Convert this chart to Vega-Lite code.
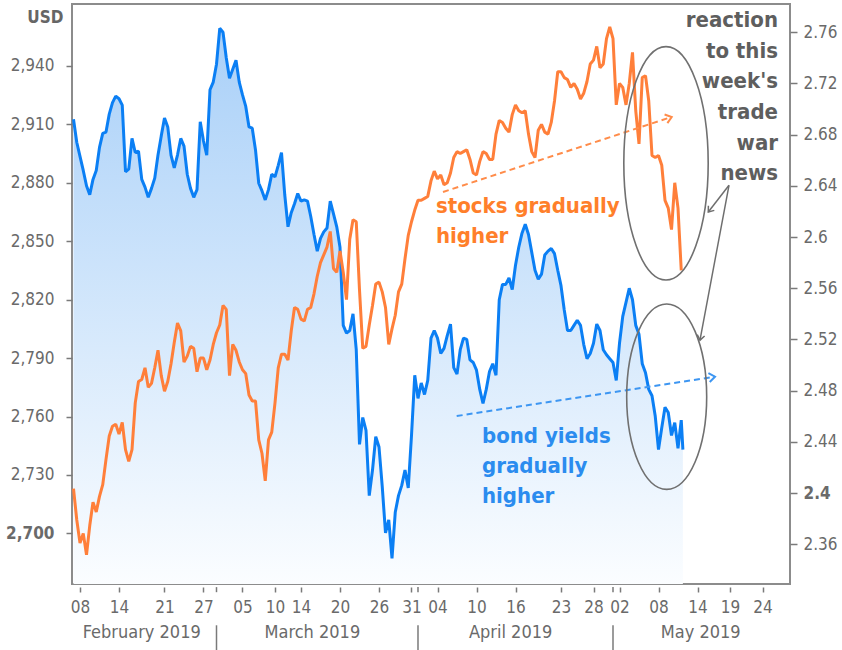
{
"$schema":"https://vega.github.io/schema/vega-lite/v6.json",
"width":718,"height":580,
"autosize":{"type":"none"},
"padding":{"left":72,"top":4,"right":52,"bottom":66},
"background":"white",
"datasets":{"m":[
{"t":"2019-02-07T00:00Z","s":2723,"y":2.692},{"t":"2019-02-07T12:00Z","s":2707,"y":2.674},
{"t":"2019-02-08T00:00Z","s":2695,"y":2.663},{"t":"2019-02-08T12:00Z","s":2700,"y":2.652},
{"t":"2019-02-09T00:00Z","s":2689,"y":2.640},{"t":"2019-02-09T12:00Z","s":2704,"y":2.633},
{"t":"2019-02-10T00:00Z","s":2716,"y":2.645},{"t":"2019-02-10T12:00Z","s":2711,"y":2.652},
{"t":"2019-02-11T00:00Z","s":2719,"y":2.670},{"t":"2019-02-11T12:00Z","s":2725,"y":2.681},
{"t":"2019-02-12T00:00Z","s":2738,"y":2.682},{"t":"2019-02-12T12:00Z","s":2750,"y":2.696},
{"t":"2019-02-13T00:00Z","s":2755,"y":2.705},{"t":"2019-02-13T12:00Z","s":2756,"y":2.710},
{"t":"2019-02-14T00:00Z","s":2751,"y":2.708},{"t":"2019-02-14T12:00Z","s":2757,"y":2.703},
{"t":"2019-02-15T00:00Z","s":2743,"y":2.651},{"t":"2019-02-15T12:00Z","s":2737,"y":2.653},
{"t":"2019-02-16T00:00Z","s":2743,"y":2.677},{"t":"2019-02-16T12:00Z","s":2767,"y":2.666},
{"t":"2019-02-17T00:00Z","s":2778,"y":2.667},{"t":"2019-02-17T12:00Z","s":2779,"y":2.645},
{"t":"2019-02-18T00:00Z","s":2785,"y":2.639},{"t":"2019-02-18T12:00Z","s":2775,"y":2.631},
{"t":"2019-02-19T00:00Z","s":2777,"y":2.638},{"t":"2019-02-19T12:00Z","s":2785,"y":2.646},
{"t":"2019-02-20T00:00Z","s":2794,"y":2.664},{"t":"2019-02-20T12:00Z","s":2781,"y":2.679},
{"t":"2019-02-21T00:00Z","s":2773,"y":2.693},{"t":"2019-02-21T12:00Z","s":2778,"y":2.686},
{"t":"2019-02-22T00:00Z","s":2787,"y":2.664},{"t":"2019-02-22T12:00Z","s":2798,"y":2.654},
{"t":"2019-02-23T00:00Z","s":2808,"y":2.664},{"t":"2019-02-23T12:00Z","s":2804,"y":2.677},
{"t":"2019-02-24T00:00Z","s":2788,"y":2.671},{"t":"2019-02-24T12:00Z","s":2791,"y":2.649},
{"t":"2019-02-25T00:00Z","s":2796,"y":2.638},{"t":"2019-02-25T12:00Z","s":2795,"y":2.631},
{"t":"2019-02-26T00:00Z","s":2783,"y":2.637},{"t":"2019-02-26T12:00Z","s":2790,"y":2.690},
{"t":"2019-02-27T00:00Z","s":2790,"y":2.675},{"t":"2019-02-27T12:00Z","s":2784,"y":2.664},
{"t":"2019-02-28T00:00Z","s":2789,"y":2.715},{"t":"2019-02-28T12:00Z","s":2797,"y":2.721},
{"t":"2019-03-01T00:00Z","s":2803,"y":2.735},{"t":"2019-03-01T12:00Z","s":2807,"y":2.763},
{"t":"2019-03-02T00:00Z","s":2817,"y":2.760},{"t":"2019-03-02T12:00Z","s":2815,"y":2.740},
{"t":"2019-03-03T00:00Z","s":2781,"y":2.724},{"t":"2019-03-03T12:00Z","s":2797,"y":2.731},
{"t":"2019-03-04T00:00Z","s":2794,"y":2.738},{"t":"2019-03-04T12:00Z","s":2788,"y":2.721},
{"t":"2019-03-05T00:00Z","s":2784,"y":2.711},{"t":"2019-03-05T12:00Z","s":2782,"y":2.702},
{"t":"2019-03-06T00:00Z","s":2771,"y":2.686},{"t":"2019-03-06T12:00Z","s":2768,"y":2.685},
{"t":"2019-03-07T00:00Z","s":2768,"y":2.668},{"t":"2019-03-07T12:00Z","s":2748,"y":2.642},
{"t":"2019-03-08T00:00Z","s":2741,"y":2.636},{"t":"2019-03-08T12:00Z","s":2727,"y":2.629},
{"t":"2019-03-09T00:00Z","s":2748,"y":2.637},{"t":"2019-03-09T12:00Z","s":2752,"y":2.649},
{"t":"2019-03-10T00:00Z","s":2767,"y":2.647},{"t":"2019-03-10T12:00Z","s":2785,"y":2.656},
{"t":"2019-03-11T00:00Z","s":2792,"y":2.666},{"t":"2019-03-11T12:00Z","s":2792,"y":2.633},
{"t":"2019-03-12T00:00Z","s":2789,"y":2.608},{"t":"2019-03-12T12:00Z","s":2804,"y":2.619},
{"t":"2019-03-13T00:00Z","s":2816,"y":2.626},{"t":"2019-03-13T12:00Z","s":2815,"y":2.634},
{"t":"2019-03-14T00:00Z","s":2810,"y":2.628},{"t":"2019-03-14T12:00Z","s":2809,"y":2.629},
{"t":"2019-03-15T00:00Z","s":2815,"y":2.628},{"t":"2019-03-15T12:00Z","s":2816,"y":2.616},
{"t":"2019-03-16T00:00Z","s":2823,"y":2.602},{"t":"2019-03-16T12:00Z","s":2832,"y":2.589},
{"t":"2019-03-17T00:00Z","s":2839,"y":2.599},{"t":"2019-03-17T12:00Z","s":2843,"y":2.604},
{"t":"2019-03-18T00:00Z","s":2847,"y":2.607},{"t":"2019-03-18T12:00Z","s":2855,"y":2.628},
{"t":"2019-03-19T00:00Z","s":2836,"y":2.618},{"t":"2019-03-19T12:00Z","s":2834,"y":2.608},
{"t":"2019-03-20T00:00Z","s":2845,"y":2.592},{"t":"2019-03-20T12:00Z","s":2834,"y":2.531},
{"t":"2019-03-21T00:00Z","s":2820,"y":2.525},{"t":"2019-03-21T12:00Z","s":2851,"y":2.527},
{"t":"2019-03-22T00:00Z","s":2861,"y":2.540},{"t":"2019-03-22T12:00Z","s":2860,"y":2.512},
{"t":"2019-03-23T00:00Z","s":2825,"y":2.438},{"t":"2019-03-23T12:00Z","s":2795,"y":2.459},
{"t":"2019-03-24T00:00Z","s":2796,"y":2.449},{"t":"2019-03-24T12:00Z","s":2807,"y":2.398},
{"t":"2019-03-25T00:00Z","s":2817,"y":2.418},{"t":"2019-03-25T12:00Z","s":2828,"y":2.444},
{"t":"2019-03-26T00:00Z","s":2829,"y":2.436},{"t":"2019-03-26T12:00Z","s":2824,"y":2.405},
{"t":"2019-03-27T00:00Z","s":2816,"y":2.369},{"t":"2019-03-27T12:00Z","s":2797,"y":2.379},
{"t":"2019-03-28T00:00Z","s":2805,"y":2.349},{"t":"2019-03-28T12:00Z","s":2812,"y":2.385},
{"t":"2019-03-29T00:00Z","s":2824,"y":2.398},{"t":"2019-03-29T12:00Z","s":2828,"y":2.406},
{"t":"2019-03-30T00:00Z","s":2841,"y":2.418},{"t":"2019-03-30T12:00Z","s":2853,"y":2.404},
{"t":"2019-03-31T00:00Z","s":2860,"y":2.445},{"t":"2019-03-31T12:00Z","s":2866,"y":2.492},
{"t":"2019-04-01T00:00Z","s":2871,"y":2.474},{"t":"2019-04-01T12:00Z","s":2871,"y":2.486},
{"t":"2019-04-02T00:00Z","s":2872,"y":2.477},{"t":"2019-04-02T12:00Z","s":2873,"y":2.488},
{"t":"2019-04-03T00:00Z","s":2881,"y":2.521},{"t":"2019-04-03T12:00Z","s":2886,"y":2.527},
{"t":"2019-04-04T00:00Z","s":2882,"y":2.521},{"t":"2019-04-04T12:00Z","s":2884,"y":2.509},
{"t":"2019-04-05T00:00Z","s":2879,"y":2.513},{"t":"2019-04-05T12:00Z","s":2880,"y":2.523},
{"t":"2019-04-06T00:00Z","s":2885,"y":2.532},{"t":"2019-04-06T12:00Z","s":2893,"y":2.498},
{"t":"2019-04-07T00:00Z","s":2896,"y":2.493},{"t":"2019-04-07T12:00Z","s":2895,"y":2.512},
{"t":"2019-04-08T00:00Z","s":2896,"y":2.521},{"t":"2019-04-08T12:00Z","s":2897,"y":2.520},
{"t":"2019-04-09T00:00Z","s":2892,"y":2.504},{"t":"2019-04-09T12:00Z","s":2885,"y":2.502},
{"t":"2019-04-10T00:00Z","s":2884,"y":2.496},{"t":"2019-04-10T12:00Z","s":2891,"y":2.481},
{"t":"2019-04-11T00:00Z","s":2896,"y":2.470},{"t":"2019-04-11T12:00Z","s":2895,"y":2.481},
{"t":"2019-04-12T00:00Z","s":2892,"y":2.495},{"t":"2019-04-12T12:00Z","s":2892,"y":2.501},
{"t":"2019-04-13T00:00Z","s":2905,"y":2.492},{"t":"2019-04-13T12:00Z","s":2912,"y":2.551},
{"t":"2019-04-14T00:00Z","s":2911,"y":2.563},{"t":"2019-04-14T12:00Z","s":2908,"y":2.563},
{"t":"2019-04-15T00:00Z","s":2906,"y":2.568},{"t":"2019-04-15T12:00Z","s":2915,"y":2.559},
{"t":"2019-04-16T00:00Z","s":2920,"y":2.578},{"t":"2019-04-16T12:00Z","s":2917,"y":2.592},
{"t":"2019-04-17T00:00Z","s":2916,"y":2.603},{"t":"2019-04-17T12:00Z","s":2917,"y":2.610},
{"t":"2019-04-18T00:00Z","s":2905,"y":2.602},{"t":"2019-04-18T12:00Z","s":2896,"y":2.588},
{"t":"2019-04-19T00:00Z","s":2893,"y":2.574},{"t":"2019-04-19T12:00Z","s":2907,"y":2.567},
{"t":"2019-04-20T00:00Z","s":2910,"y":2.571},{"t":"2019-04-20T12:00Z","s":2906,"y":2.586},
{"t":"2019-04-21T00:00Z","s":2905,"y":2.589},{"t":"2019-04-21T12:00Z","s":2911,"y":2.591},
{"t":"2019-04-22T00:00Z","s":2922,"y":2.587},{"t":"2019-04-22T12:00Z","s":2937,"y":2.574},
{"t":"2019-04-23T00:00Z","s":2937,"y":2.562},{"t":"2019-04-23T12:00Z","s":2934,"y":2.543},
{"t":"2019-04-24T00:00Z","s":2933,"y":2.527},{"t":"2019-04-24T12:00Z","s":2929,"y":2.527},
{"t":"2019-04-25T00:00Z","s":2931,"y":2.531},{"t":"2019-04-25T12:00Z","s":2928,"y":2.535},
{"t":"2019-04-26T00:00Z","s":2923,"y":2.531},{"t":"2019-04-26T12:00Z","s":2926,"y":2.516},
{"t":"2019-04-27T00:00Z","s":2932,"y":2.505},{"t":"2019-04-27T12:00Z","s":2941,"y":2.509},
{"t":"2019-04-28T00:00Z","s":2943,"y":2.517},{"t":"2019-04-28T12:00Z","s":2950,"y":2.532},
{"t":"2019-04-29T00:00Z","s":2939,"y":2.527},{"t":"2019-04-29T12:00Z","s":2941,"y":2.512},
{"t":"2019-04-30T00:00Z","s":2954,"y":2.508},{"t":"2019-04-30T12:00Z","s":2960,"y":2.505},
{"t":"2019-05-01T00:00Z","s":2954,"y":2.502},{"t":"2019-05-01T12:00Z","s":2920,"y":2.488},
{"t":"2019-05-02T00:00Z","s":2931,"y":2.517},{"t":"2019-05-02T12:00Z","s":2929,"y":2.538},
{"t":"2019-05-03T00:00Z","s":2920,"y":2.549},{"t":"2019-05-03T12:00Z","s":2931,"y":2.560},
{"t":"2019-05-04T00:00Z","s":2947,"y":2.551},{"t":"2019-05-04T12:00Z","s":2917,"y":2.531},
{"t":"2019-05-05T00:00Z","s":2900,"y":2.524},{"t":"2019-05-05T12:00Z","s":2934,"y":2.501},
{"t":"2019-05-06T00:00Z","s":2935,"y":2.494},{"t":"2019-05-06T12:00Z","s":2922,"y":2.481},
{"t":"2019-05-07T00:00Z","s":2894,"y":2.476},{"t":"2019-05-07T12:00Z","s":2893,"y":2.460},
{"t":"2019-05-08T00:00Z","s":2894,"y":2.434},{"t":"2019-05-08T12:00Z","s":2889,"y":2.451},
{"t":"2019-05-09T00:00Z","s":2871,"y":2.467},{"t":"2019-05-09T12:00Z","s":2867,"y":2.463},
{"t":"2019-05-10T00:00Z","s":2856,"y":2.445},{"t":"2019-05-10T12:00Z","s":2880,"y":2.455},
{"t":"2019-05-11T00:00Z","s":2867,"y":2.435},{"t":"2019-05-11T12:00Z","s":2835,"y":2.457},
{"t":"2019-05-11T18:00Z","s":null,"y":2.434}
]},
"layer":[
{"layer":[
 {"data":{"name":"m"},
  "mark":{"type":"area","line":false,"fill":{"gradient":"linear","x1":0,"y1":0,"x2":0,"y2":1,"stops":[{"offset":0,"color":"#a9d0f8"},{"offset":1,"color":"#fbfdff"}]}},
  "encoding":{
   "x":{"field":"t","type":"temporal","scale":{"type":"utc","nice":false,"domain":[{"year":2019,"month":2,"date":6,"hours":18,"minutes":28,"utc":true},{"year":2019,"month":5,"date":28,"hours":5,"minutes":32,"utc":true}]},
    "axis":{"orient":"bottom","title":null,"offset":3,"tickSize":5,"labelPadding":7,"labelOverlap":false,"labelFlush":false,"tickCount":40,
     "labelExpr":"utcFormat(datum.value, '%d')",
     "values":[{"year":2019,"month":2,"date":8,"utc":true},{"year":2019,"month":2,"date":14,"utc":true},{"year":2019,"month":2,"date":21,"utc":true},{"year":2019,"month":2,"date":27,"utc":true},{"year":2019,"month":3,"date":5,"utc":true},{"year":2019,"month":3,"date":10,"utc":true},{"year":2019,"month":3,"date":14,"utc":true},{"year":2019,"month":3,"date":20,"utc":true},{"year":2019,"month":3,"date":26,"utc":true},{"year":2019,"month":3,"date":31,"utc":true},{"year":2019,"month":4,"date":4,"utc":true},{"year":2019,"month":4,"date":10,"utc":true},{"year":2019,"month":4,"date":16,"utc":true},{"year":2019,"month":4,"date":23,"utc":true},{"year":2019,"month":4,"date":28,"utc":true},{"year":2019,"month":5,"date":2,"utc":true},{"year":2019,"month":5,"date":8,"utc":true},{"year":2019,"month":5,"date":14,"utc":true},{"year":2019,"month":5,"date":19,"utc":true},{"year":2019,"month":5,"date":24,"utc":true}]}},
   "y":{"field":"y","type":"quantitative","scale":{"domain":[2.329,2.782],"nice":false,"zero":false},
    "axis":{"orient":"right","title":null,"tickSize":7,"labelPadding":6,"labelOverlap":false,"tickCount":30,
     "labelExpr":"format(datum.value, '.2~f')",
     "values":[2.36,2.4,2.44,2.48,2.52,2.56,2.6,2.64,2.68,2.72,2.76],
     "labelFontWeight":{"condition":{"test":"abs(datum.value - 2.4) < 0.001","value":"bold"},"value":"normal"}}},
   "y2":{"datum":2.329}}},
 {"data":{"name":"m"},
  "mark":{"type":"line","color":"#0b7ff4","strokeWidth":3,"strokeJoin":"bevel"},
  "encoding":{
   "x":{"field":"t","type":"temporal","scale":{"type":"utc","nice":false,"domain":[{"year":2019,"month":2,"date":6,"hours":18,"minutes":28,"utc":true},{"year":2019,"month":5,"date":28,"hours":5,"minutes":32,"utc":true}]}},
   "y":{"field":"y","type":"quantitative","scale":{"domain":[2.329,2.782],"nice":false,"zero":false}}}},
 {"data":{"values":[{"t":"2019-04-06T22:48:00Z","v":2.4602},{"t":"2019-05-16T16:37:00Z","v":2.4909}]},
  "mark":{"type":"line","color":"#3d96f2","strokeWidth":2,"strokeDash":[6,4]},
  "encoding":{
   "x":{"field":"t","type":"temporal","scale":{"type":"utc","nice":false,"domain":[{"year":2019,"month":2,"date":6,"hours":18,"minutes":28,"utc":true},{"year":2019,"month":5,"date":28,"hours":5,"minutes":32,"utc":true}]}},
   "y":{"field":"v","type":"quantitative","scale":{"domain":[2.329,2.782],"nice":false,"zero":false}}}},
 {"data":{"values":[{"t":"2019-05-16T16:37:00Z","v":2.4909}]},
  "mark":{"type":"point","shape":"M-1,-0.75L0,0L-1,0.75","size":144,"filled":false,"stroke":"#3d96f2","strokeWidth":2,"opacity":1,"angle":-8.65},
  "encoding":{
   "x":{"field":"t","type":"temporal","scale":{"type":"utc","nice":false,"domain":[{"year":2019,"month":2,"date":6,"hours":18,"minutes":28,"utc":true},{"year":2019,"month":5,"date":28,"hours":5,"minutes":32,"utc":true}]}},
   "y":{"field":"v","type":"quantitative","scale":{"domain":[2.329,2.782],"nice":false,"zero":false}}}},
 {"data":{"values":[{"t":"2019-05-09T06:14:00Z","v":2.4753}]},
  "mark":{"type":"point","shape":"M-0.4315,0A0.4315,1 0 1,1 0.4315,0A0.4315,1 0 1,1 -0.4315,0Z","size":34373,"filled":false,"stroke":"#707070","strokeWidth":1.6,"opacity":1},
  "encoding":{
   "x":{"field":"t","type":"temporal","scale":{"type":"utc","nice":false,"domain":[{"year":2019,"month":2,"date":6,"hours":18,"minutes":28,"utc":true},{"year":2019,"month":5,"date":28,"hours":5,"minutes":32,"utc":true}]}},
   "y":{"field":"v","type":"quantitative","scale":{"domain":[2.329,2.782],"nice":false,"zero":false}}}},
 {"data":{"values":[{"t":"2019-04-10T20:18:00Z","v":2.4389}]},
  "mark":{"type":"text","text":["bond yields","gradually","higher"],"align":"left","baseline":"alphabetic","lineHeight":30,"font":"DejaVu Sans Condensed, DejaVu Sans, sans-serif","fontWeight":"bold","fontSize":22,"color":"#2b8cef"},
  "encoding":{
   "x":{"field":"t","type":"temporal","scale":{"type":"utc","nice":false,"domain":[{"year":2019,"month":2,"date":6,"hours":18,"minutes":28,"utc":true},{"year":2019,"month":5,"date":28,"hours":5,"minutes":32,"utc":true}]}},
   "y":{"field":"v","type":"quantitative","scale":{"domain":[2.329,2.782],"nice":false,"zero":false}}}}
]},
{"layer":[
 {"data":{"name":"m"},
  "mark":{"type":"line","color":"#ff7f3a","strokeWidth":3,"strokeJoin":"bevel"},
  "encoding":{
   "x":{"field":"t","type":"temporal","scale":{"type":"utc","nice":false,"domain":[{"year":2019,"month":2,"date":6,"hours":18,"minutes":28,"utc":true},{"year":2019,"month":5,"date":28,"hours":5,"minutes":32,"utc":true}]}},
   "y":{"field":"s","type":"quantitative","scale":{"domain":[2674,2971.8],"nice":false,"zero":false},
    "axis":{"orient":"left","tickSize":6,"labelPadding":12,"labelOverlap":false,"tickCount":30,
     "labelExpr":"format(datum.value, ',')",
     "values":[2700,2730,2760,2790,2820,2850,2880,2910,2940],
     "labelFontWeight":{"condition":{"test":"datum.value == 2700","value":"bold"},"value":"normal"},
     "title":"USD","titleAngle":0,"titleX":-9,"titleY":13,"titleAlign":"right","titleBaseline":"middle","titleFontWeight":"bold","titleFontSize":17,"titleColor":"#666666"}}}},
 {"data":{"values":[{"t":"2019-02-17T12:00:00Z","m":"February 2019"},{"t":"2019-03-15T18:00:00Z","m":"March 2019"},{"t":"2019-04-15T06:00:00Z","m":"April 2019"},{"t":"2019-05-14T12:00:00Z","m":"May 2019"}]},
  "mark":{"type":"text","align":"center","baseline":"middle","font":"DejaVu Sans Condensed, Liberation Sans, sans-serif","fontSize":18,"color":"#6a6a6a"},
  "encoding":{
   "x":{"field":"t","type":"temporal","scale":{"type":"utc","nice":false,"domain":[{"year":2019,"month":2,"date":6,"hours":18,"minutes":28,"utc":true},{"year":2019,"month":5,"date":28,"hours":5,"minutes":32,"utc":true}]}},
   "y":{"datum":2648.6,"type":"quantitative","scale":{"domain":[2674,2971.8],"nice":false,"zero":false}},
   "text":{"field":"m"}}},
 {"data":{"values":[{"t":"2019-03-01T00:00:00Z"},{"t":"2019-04-01T00:00:00Z"},{"t":"2019-05-01T00:00:00Z"}]},
  "mark":{"type":"rule","color":"#7a7a7a","strokeWidth":1.5},
  "encoding":{
   "x":{"field":"t","type":"temporal","scale":{"type":"utc","nice":false,"domain":[{"year":2019,"month":2,"date":6,"hours":18,"minutes":28,"utc":true},{"year":2019,"month":5,"date":28,"hours":5,"minutes":32,"utc":true}]}},
   "y":{"datum":2652.8,"type":"quantitative","scale":{"domain":[2674,2971.8],"nice":false,"zero":false}},
   "y2":{"datum":2640.0}}},
 {"data":{"values":[{"t":"2019-03-01T00:00:00Z"},{"t":"2019-04-01T00:00:00Z"},{"t":"2019-05-01T00:00:00Z"}]},
  "mark":{"type":"rule","color":"#7a7a7a","strokeWidth":1.5},
  "encoding":{
   "x":{"field":"t","type":"temporal","scale":{"type":"utc","nice":false,"domain":[{"year":2019,"month":2,"date":6,"hours":18,"minutes":28,"utc":true},{"year":2019,"month":5,"date":28,"hours":5,"minutes":32,"utc":true}]}},
   "y":{"datum":2672.4,"type":"quantitative","scale":{"domain":[2674,2971.8],"nice":false,"zero":false}},
   "y2":{"datum":2669.8}}},
 {"data":{"values":[{"t":"2019-04-04T20:18:00Z","v":2875.3},{"t":"2019-05-10T00:43:00Z","v":2913.8}]},
  "mark":{"type":"line","color":"#ff8c4a","strokeWidth":2,"strokeDash":[6,4]},
  "encoding":{
   "x":{"field":"t","type":"temporal","scale":{"type":"utc","nice":false,"domain":[{"year":2019,"month":2,"date":6,"hours":18,"minutes":28,"utc":true},{"year":2019,"month":5,"date":28,"hours":5,"minutes":32,"utc":true}]}},
   "y":{"field":"v","type":"quantitative","scale":{"domain":[2674,2971.8],"nice":false,"zero":false}}}},
 {"data":{"values":[{"t":"2019-05-10T00:43:00Z","v":2913.8}]},
  "mark":{"type":"point","shape":"M-1,-0.75L0,0L-1,0.75","size":144,"filled":false,"stroke":"#ff8c4a","strokeWidth":2,"opacity":1,"angle":-18.2},
  "encoding":{
   "x":{"field":"t","type":"temporal","scale":{"type":"utc","nice":false,"domain":[{"year":2019,"month":2,"date":6,"hours":18,"minutes":28,"utc":true},{"year":2019,"month":5,"date":28,"hours":5,"minutes":32,"utc":true}]}},
   "y":{"field":"v","type":"quantitative","scale":{"domain":[2674,2971.8],"nice":false,"zero":false}}}},
 {"data":{"values":[{"t":"2019-05-09T03:42:00Z","v":2890.0}]},
  "mark":{"type":"point","shape":"M-0.3616,0A0.3616,1 0 1,1 0.3616,0A0.3616,1 0 1,1 -0.3616,0Z","size":54475,"filled":false,"stroke":"#707070","strokeWidth":1.6,"opacity":1},
  "encoding":{
   "x":{"field":"t","type":"temporal","scale":{"type":"utc","nice":false,"domain":[{"year":2019,"month":2,"date":6,"hours":18,"minutes":28,"utc":true},{"year":2019,"month":5,"date":28,"hours":5,"minutes":32,"utc":true}]}},
   "y":{"field":"v","type":"quantitative","scale":{"domain":[2674,2971.8],"nice":false,"zero":false}}}},
 {"data":{"values":[{"t":"2019-04-03T18:28:00Z","v":2864.4}]},
  "mark":{"type":"text","text":["stocks gradually","higher"],"align":"left","baseline":"alphabetic","lineHeight":30,"font":"DejaVu Sans Condensed, DejaVu Sans, sans-serif","fontWeight":"bold","fontSize":22,"color":"#ff7f2a"},
  "encoding":{
   "x":{"field":"t","type":"temporal","scale":{"type":"utc","nice":false,"domain":[{"year":2019,"month":2,"date":6,"hours":18,"minutes":28,"utc":true},{"year":2019,"month":5,"date":28,"hours":5,"minutes":32,"utc":true}]}},
   "y":{"field":"v","type":"quantitative","scale":{"domain":[2674,2971.8],"nice":false,"zero":false}}}},
 {"data":{"values":[{"t":"2019-05-26T09:14:00Z","v":2960.0}]},
  "mark":{"type":"text","text":["reaction","to this","week's","trade","war","news"],"align":"right","baseline":"alphabetic","lineHeight":30.7,"font":"DejaVu Sans Condensed, DejaVu Sans, sans-serif","fontWeight":"bold","fontSize":22,"color":"#5e5e5e"},
  "encoding":{
   "x":{"field":"t","type":"temporal","scale":{"type":"utc","nice":false,"domain":[{"year":2019,"month":2,"date":6,"hours":18,"minutes":28,"utc":true},{"year":2019,"month":5,"date":28,"hours":5,"minutes":32,"utc":true}]}},
   "y":{"field":"v","type":"quantitative","scale":{"domain":[2674,2971.8],"nice":false,"zero":false}}}},
 {"data":{"values":[{"g":"a","t":"2019-05-18T20:18:00Z","v":2878.7},{"g":"a","t":"2019-05-15T15:50:00Z","v":2865.0},{"g":"b","t":"2019-05-18T20:18:00Z","v":2878.7},{"g":"b","t":"2019-05-14T09:14:00Z","v":2799.2}]},
  "mark":{"type":"line","color":"#6e6e6e","strokeWidth":1.5},
  "encoding":{
   "x":{"field":"t","type":"temporal","scale":{"type":"utc","nice":false,"domain":[{"year":2019,"month":2,"date":6,"hours":18,"minutes":28,"utc":true},{"year":2019,"month":5,"date":28,"hours":5,"minutes":32,"utc":true}]}},
   "y":{"field":"v","type":"quantitative","scale":{"domain":[2674,2971.8],"nice":false,"zero":false}},
   "detail":{"field":"g"}}},
 {"data":{"values":[{"t":"2019-05-15T15:50:00Z","v":2865.0}]},
  "mark":{"type":"point","shape":"M-1,-0.75L0,0L-1,0.75","size":100,"filled":false,"stroke":"#6e6e6e","strokeWidth":1.5,"opacity":1,"angle":127.8},
  "encoding":{
   "x":{"field":"t","type":"temporal","scale":{"type":"utc","nice":false,"domain":[{"year":2019,"month":2,"date":6,"hours":18,"minutes":28,"utc":true},{"year":2019,"month":5,"date":28,"hours":5,"minutes":32,"utc":true}]}},
   "y":{"field":"v","type":"quantitative","scale":{"domain":[2674,2971.8],"nice":false,"zero":false}}}},
 {"data":{"values":[{"t":"2019-05-14T09:14:00Z","v":2799.2}]},
  "mark":{"type":"point","shape":"M-1,-0.75L0,0L-1,0.75","size":100,"filled":false,"stroke":"#6e6e6e","strokeWidth":1.5,"opacity":1,"angle":100.6},
  "encoding":{
   "x":{"field":"t","type":"temporal","scale":{"type":"utc","nice":false,"domain":[{"year":2019,"month":2,"date":6,"hours":18,"minutes":28,"utc":true},{"year":2019,"month":5,"date":28,"hours":5,"minutes":32,"utc":true}]}},
   "y":{"field":"v","type":"quantitative","scale":{"domain":[2674,2971.8],"nice":false,"zero":false}}}}
]}
],
"resolve":{"scale":{"y":"independent"}},
"config":{
 "view":{"stroke":"#8c8c8c","strokeWidth":2},
 "axis":{"labelFont":"DejaVu Sans Condensed, Liberation Sans, sans-serif","titleFont":"DejaVu Sans Condensed, Liberation Sans, sans-serif","labelFontSize":17,"labelColor":"#6a6a6a","tickColor":"#7a7a7a","tickWidth":1.5,"domain":false,"grid":false,"labelOverlap":false,"labelFlush":false}
}
}
